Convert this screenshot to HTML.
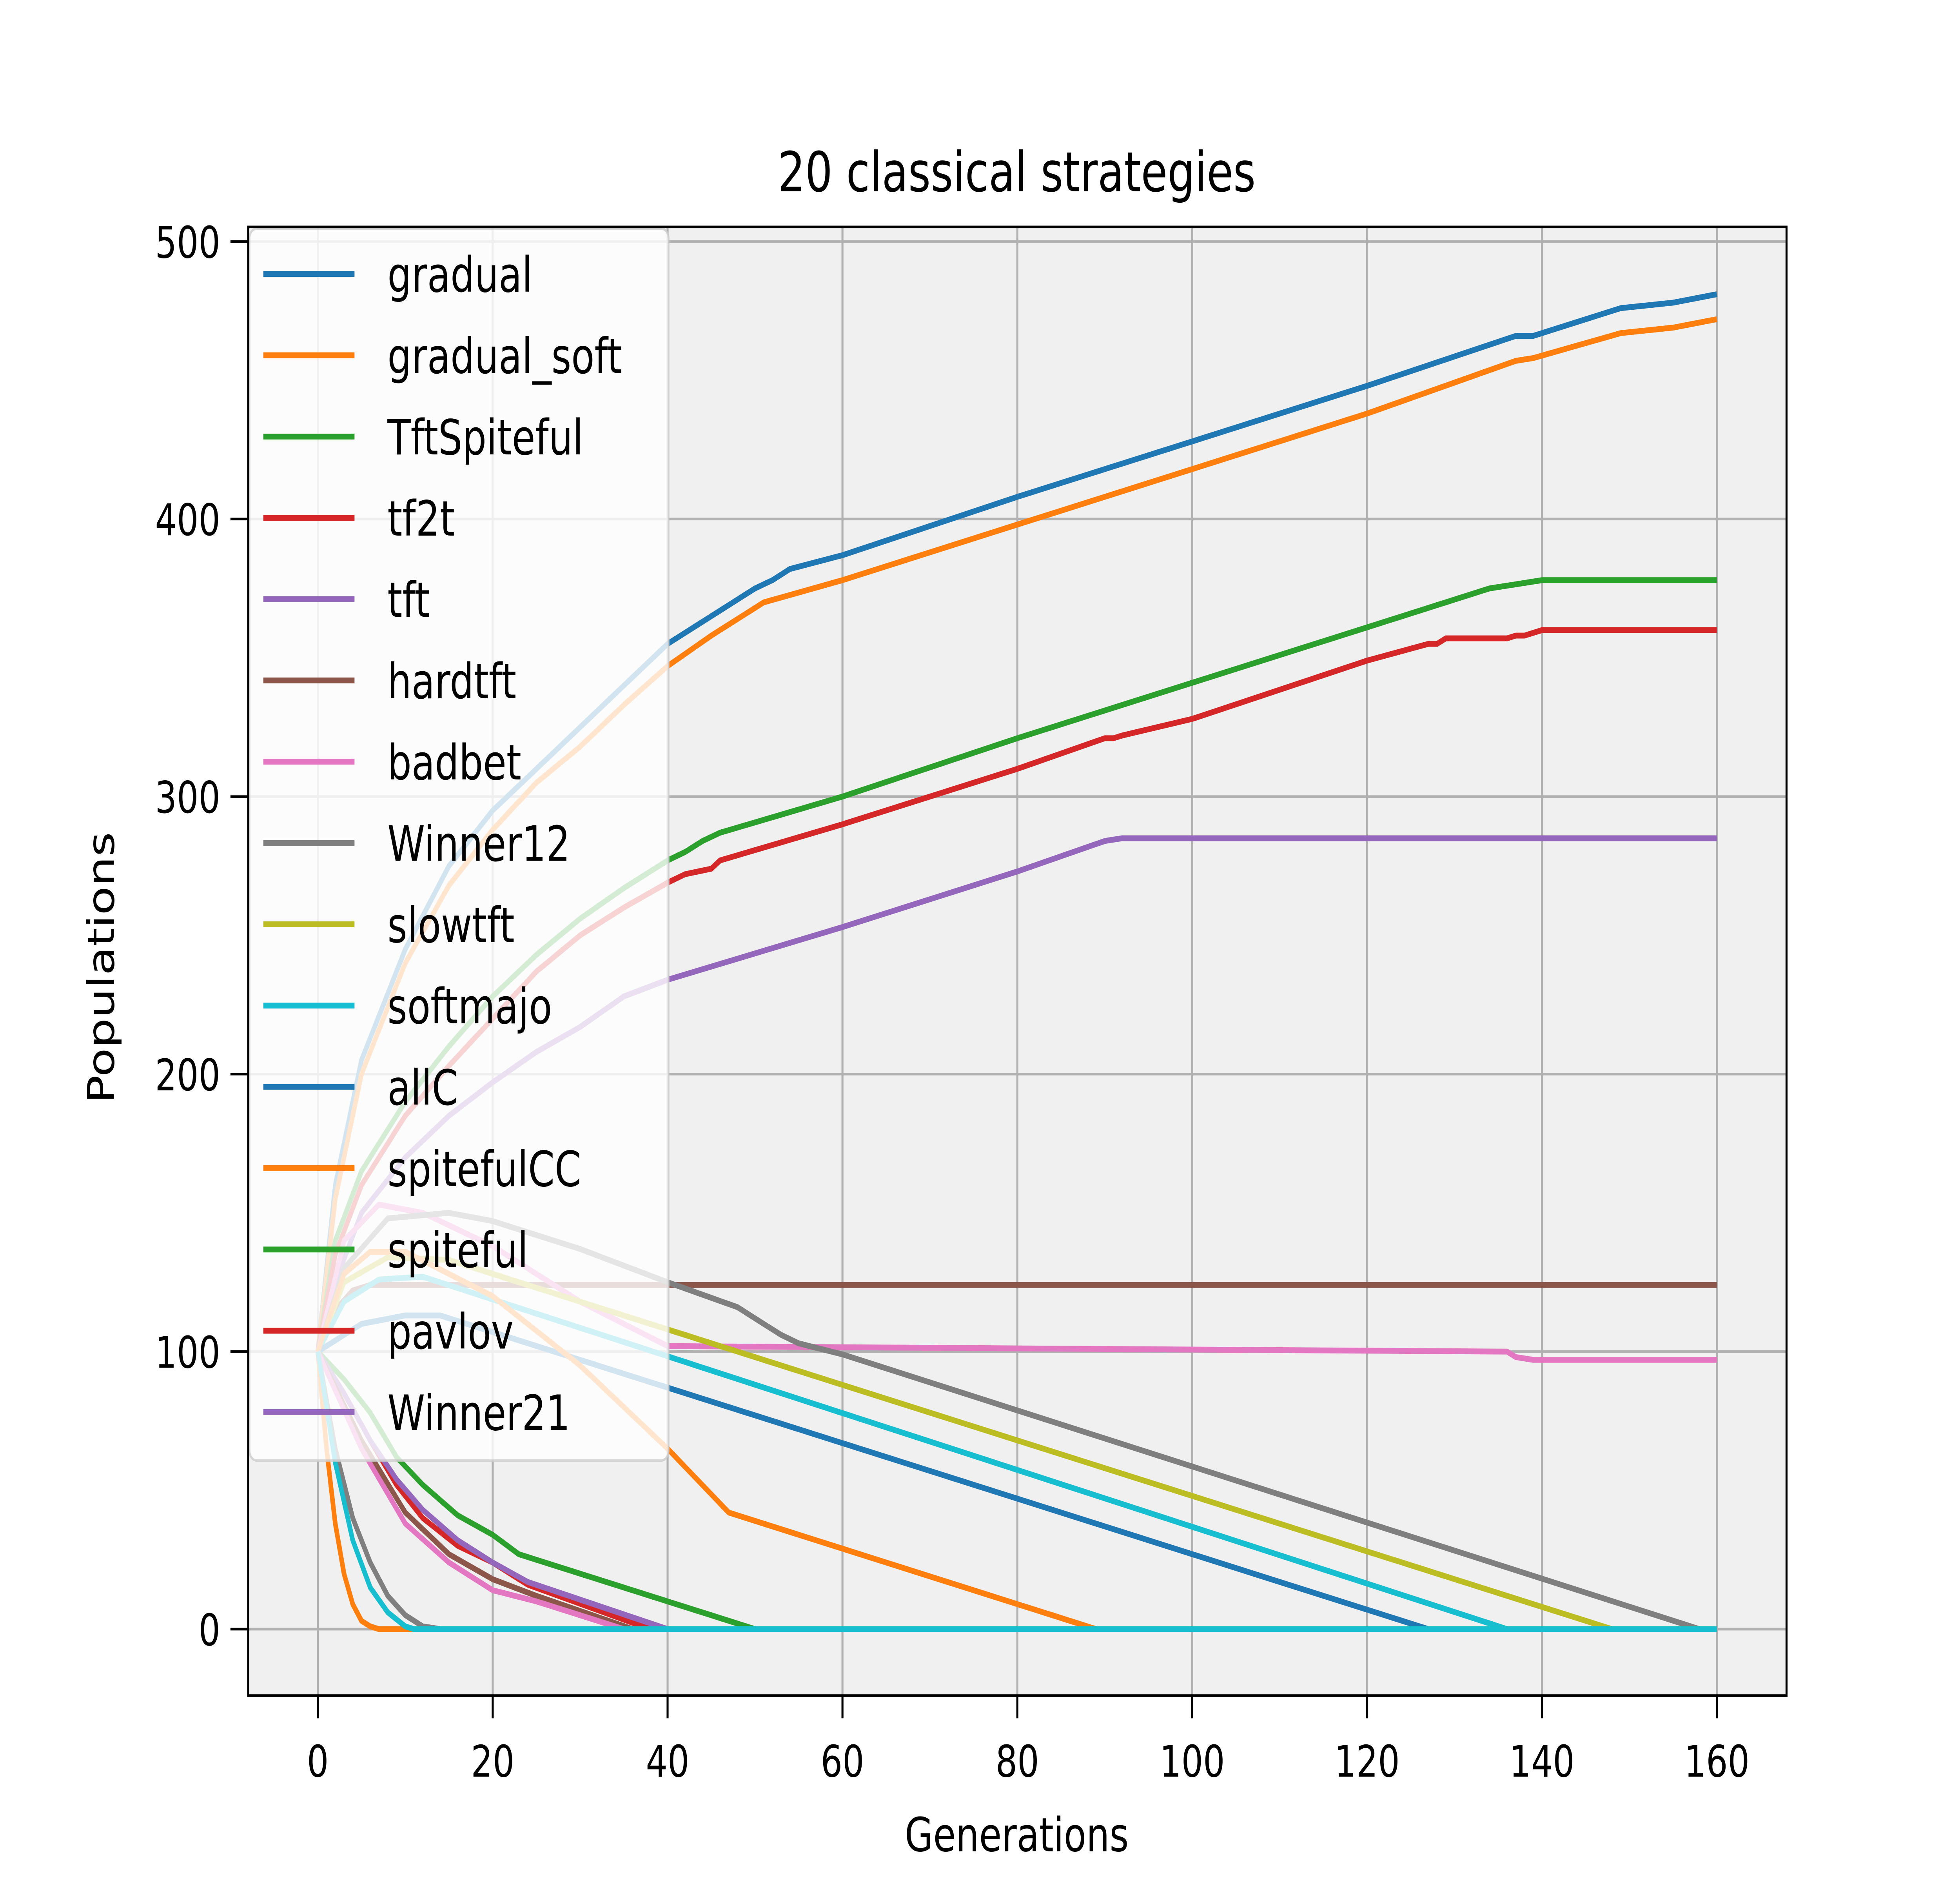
<!DOCTYPE html>
<html><head><meta charset="utf-8"><style>
html,body{margin:0;padding:0;background:#fff;width:100%;height:100%;overflow:hidden;}
svg{display:block;position:absolute;left:0;top:0;width:100vw;height:100vh;}
text{font-family:"DejaVu Sans","Liberation Sans",sans-serif;fill:#000;}
</style></head><body>
<svg id="chart" viewBox="0 0 1548 1161" preserveAspectRatio="none" xmlns="http://www.w3.org/2000/svg">
<rect x="0" y="0" width="1548" height="1161" fill="#fff"/>
<rect x="196" y="140" width="1215" height="906" fill="#f0f0f0"/>
<g id="grid"></g>
<g id="series"></g>
<g id="legend"></g>
<rect x="196" y="140" width="1215" height="906" fill="none" stroke="#000" stroke-width="1.6"/>
<g id="ticks"></g>
<text x="803" y="118" font-size="34" text-anchor="middle">20 classical strategies</text>
<text x="803" y="1142" font-size="29" text-anchor="middle">Generations</text>
<text x="90" y="597" font-size="29" text-anchor="middle" transform="rotate(-90 90 597)">Populations</text>
</svg>
<script>
const xTicks=[0,20,40,60,80,100,120,140,160];
const yTicks=[0,100,200,300,400,500];
const names=["gradual","gradual_soft","TftSpiteful","tf2t","tft","hardtft","badbet","Winner12","slowtft","softmajo","allC","spitefulCC","spiteful","pavlov","Winner21","fast5","fast6","fast7","fast8","fast9"];
const colors=["#1f77b4","#ff7f0e","#2ca02c","#d62728","#9467bd","#8c564b","#e377c2","#7f7f7f","#bcbd22","#17becf","#1f77b4","#ff7f0e","#2ca02c","#d62728","#9467bd","#8c564b","#e377c2","#7f7f7f","#ff7f0e","#17becf"];
const gradualX=[0,2,5,10,15,20,25,30,35,40,45,50,52,54,60,80,100,120,137,139,149,155,160];
const gradualY=[100,160,205,245,275,295,310,325,340,355,365,375,378,382,387,408,428,448,466,466,476,478,481];
const gradualSoftX=[0,2,5,10,15,20,25,30,35,40,45,51,60,80,100,120,137,139,149,155,160];
const gradualSoftY=[100,155,200,240,268,288,305,318,333,347,358,370,378,398,418,438,457,458,467,469,472];
const tftSpitefulX=[0,2,5,10,15,20,25,30,35,40,42,44,46,60,80,100,120,134,136,138,140,160];
const tftSpitefulY=[100,140,165,190,210,228,243,256,267,277,280,284,287,300,321,341,361,375,376,377,378,378];
const tf2tX=[0,2,5,10,15,20,25,30,35,40,42,45,46,60,80,90,91,92,100,120,127,128,129,136,137,138,140,160];
const tf2tY=[100,135,160,185,203,220,237,250,260,269,272,274,277,290,310,321,321,322,328,349,355,355,357,357,358,358,360,360];
const tftX=[0,2,5,10,15,20,25,30,35,40,60,80,90,92,160];
const tftY=[100,125,150,170,185,197,208,217,228,234,253,273,284,285,285];
const hardtftX=[0,2,4,6,160];
const hardtftY=[100,115,122,124,124];
const badbetX=[0,3,7,12,20,30,40,136,137,139,160];
const badbetY=[100,140,153,150,138,118,102,100,98,97,97];
const winner12X=[0,3,8,15,20,30,40,48,50,53,55,60,158,160];
const winner12Y=[100,130,148,150,147,137,125,116,112,106,103,99,0,0];
const slowtftX=[0,3,8,15,148,160];
const slowtftY=[100,125,134,133,0,0];
const softmajoX=[0,3,7,12,136,160];
const softmajoY=[100,118,126,127,0,0];
const allCX=[0,5,10,14,127,160];
const allCY=[100,110,113,113,0,0];
const spitefulCCX=[0,3,6,10,20,30,40,47,89,160];
const spitefulCCY=[100,128,136,136,120,95,65,42,0,0];
const spitefulX=[0,3,6,9,12,16,20,23,50,160];
const spitefulY=[100,90,78,62,52,41,34,27,0,0];
const pavlovX=[0,3,6,9,12,16,20,24,38,160];
const pavlovY=[100,85,68,52,40,30,24,16,0,0];
const winner21X=[0,3,6,9,12,16,20,24,40,160];
const winner21Y=[100,85,68,54,43,32,24,17,0,0];
const fast5X=[0,5,10,15,20,25,36,160];
const fast5Y=[100,68,42,27,18,12,0,0];
const fast6X=[0,5,10,15,20,25,35,160];
const fast6Y=[100,65,38,24,14,10,0,0];
const fast7X=[0,2,4,6,8,10,12,14,160];
const fast7Y=[100,65,40,24,12,5,1,0,0];
const fast8X=[0,1,2,3,4,5,6,7,160];
const fast8Y=[100,65,38,20,9,3,1,0,0];
const fast9X=[0,2,4,6,8,10,11,160];
const fast9Y=[100,60,32,15,6,1,0,0];
const seriesX=[gradualX,gradualSoftX,tftSpitefulX,tf2tX,tftX,hardtftX,badbetX,winner12X,slowtftX,softmajoX,allCX,spitefulCCX,spitefulX,pavlovX,winner21X,fast5X,fast6X,fast7X,fast8X,fast9X];
const seriesY=[gradualY,gradualSoftY,tftSpitefulY,tf2tY,tftY,hardtftY,badbetY,winner12Y,slowtftY,softmajoY,allCY,spitefulCCY,spitefulY,pavlovY,winner21Y,fast5Y,fast6Y,fast7Y,fast8Y,fast9Y];
const legendCount=15;

const NS="http://www.w3.org/2000/svg";
const xs=v=>251+v*(1356-251)/160;
const ys=v=>1005-v*(1005-149)/500;
function mk(t,a,p){const e=document.createElementNS(NS,t);for(const k in a)e.setAttribute(k,a[k]);p.appendChild(e);return e;}
const grid=document.getElementById('grid'),ticks=document.getElementById('ticks'),sg=document.getElementById('series'),lg=document.getElementById('legend');
xTicks.forEach(t=>{
 const g=mk('line',{x1:xs(t),x2:xs(t),y1:140,y2:1046,stroke:'#b0b0b0','stroke-width':1.6},grid);
 
 
 const tk=mk('line',{x1:xs(t),x2:xs(t),y1:1046,y2:1060,stroke:'#000','stroke-width':1.6},ticks);
 
 
 const tx=mk('text',{x:xs(t),y:1096,'font-size':27,'text-anchor':'middle'},ticks);tx.textContent=t;
 
 
});
yTicks.forEach(t=>{
 const g=mk('line',{x1:196,x2:1411,y1:ys(t),y2:ys(t),stroke:'#b0b0b0','stroke-width':1.6},grid);
 
 
 const tk=mk('line',{x1:182,x2:196,y1:ys(t),y2:ys(t),stroke:'#000','stroke-width':1.6},ticks);
 
 
 const tx=mk('text',{x:174,y:ys(t)+10,'font-size':27,'text-anchor':'end'},ticks);tx.textContent=t;
 
 
});
seriesX.forEach((X,i)=>{
 const d=X.map((x,j)=>(j?'L':'M')+xs(x).toFixed(1)+' '+ys(seriesY[i][j]).toFixed(1)).join(' ');
 const p=mk('path',{d:d,fill:'none',stroke:colors[i],'stroke-width':3.6,'stroke-linejoin':'round'},sg);
 
 
});
const box=mk('rect',{x:197,y:141,width:331,height:760,rx:6,fill:'#ffffff','fill-opacity':0.8,stroke:'#cccccc','stroke-opacity':0.8,'stroke-width':1.5},lg);


for(let i=0;i<legendCount;i++){
 const y=169+i*50.15;
 const l=mk('line',{x1:208,x2:280,y1:y,y2:y,stroke:colors[i],'stroke-width':3.6},lg);
 
 
 const t=mk('text',{x:306,y:y+11,'font-size':30},lg);t.textContent=names[i];
 
 
}
</script>
</body></html>
